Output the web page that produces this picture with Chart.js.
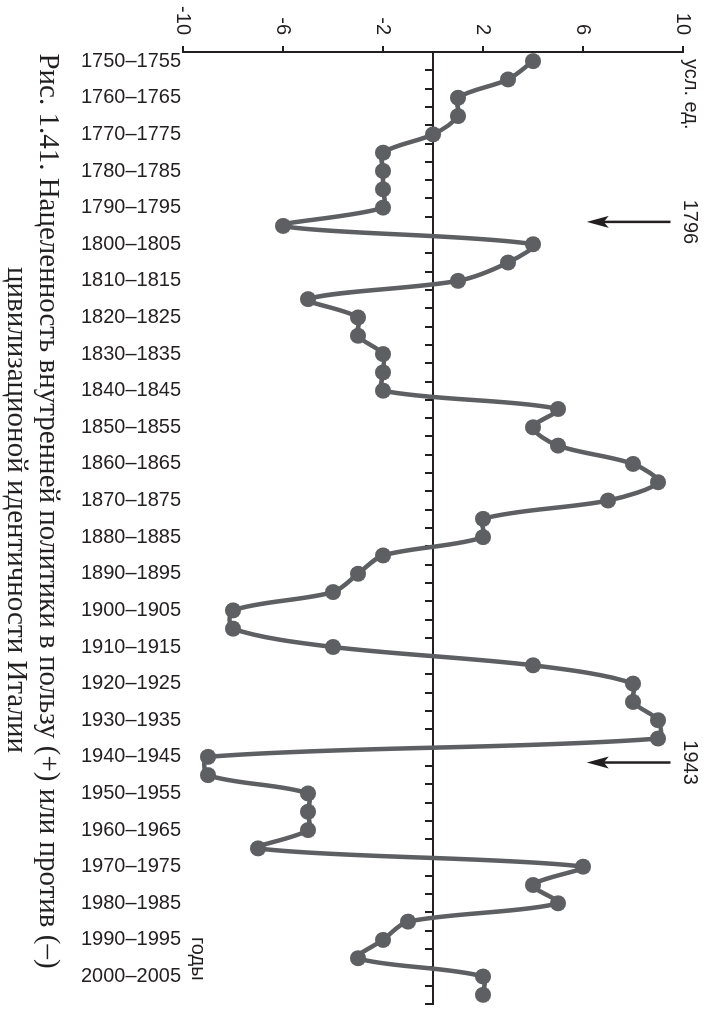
<!DOCTYPE html>
<html>
<head>
<meta charset="utf-8">
<script src="https://cdn.jsdelivr.net/npm/chart.js@4.4.1/dist/chart.umd.min.js"></script>
<style>
html, body { margin: 0; padding: 0; background: #ffffff; overflow: hidden; width: 710px; height: 1012px; }
#wrap { position: absolute; left: 0; top: 0; width: 1012px; height: 710px; transform-origin: 0 0; transform: translate(710px, 0) rotate(90deg); }
canvas { display: block; }
</style>
</head>
<body>
<div id="wrap"><canvas id="c" width="1012" height="710"></canvas></div>
<script>
// ---- data ----
const periods = [
  '1750–1755','1755–1760','1760–1765','1765–1770','1770–1775','1775–1780','1780–1785','1785–1790','1790–1795','1795–1800',
  '1800–1805','1805–1810','1810–1815','1815–1820','1820–1825','1825–1830','1830–1835','1835–1840','1840–1845','1845–1850',
  '1850–1855','1855–1860','1860–1865','1865–1870','1870–1875','1875–1880','1880–1885','1885–1890','1890–1895','1895–1900',
  '1900–1905','1905–1910','1910–1915','1915–1920','1920–1925','1925–1930','1930–1935','1935–1940','1940–1945','1945–1950',
  '1950–1955','1955–1960','1960–1965','1965–1970','1970–1975','1975–1980','1980–1985','1985–1990','1990–1995','1995–2000',
  '2000–2005','2005–2010'
];
const values = [
   4,  3,  1,  1,  0, -2, -2, -2, -2, -6,
   4,  3,  1, -5, -3, -3, -2, -2, -2,  5,
   4,  5,  8,  9,  7,  2,  2, -2, -3, -4,
  -8, -8, -4,  4,  8,  8,  9,  9, -9, -9,
  -5, -5, -5, -7,  6,  4,  5, -1, -2, -3,
   2,  2
];
const valueTicks = [-10, -6, -2, 2, 6, 10];
const labelEvery = 2;
const titleLines = [
  'Рис. 1.41. Нацеленность внутренней политики в пользу (+) или против (–)',
  'цивилизационой идентичности Италии'
];
const valueUnit = 'усл. ед.';
const categoryUnit = 'годы';
// arrows: position along the period axis (in period-index units), arrow from value to value
const markerText = ['1796', '1943'];
const markerAt = [8.78, 38.31];
const arrowFrom = 9.5;
const arrowTo = 6.15;

// ---- styles ----
const ink = '#231f20';
const lineGrey = '#5e5f63';
const sans = '"Liberation Sans", Arial, sans-serif';
const serif = '"Liberation Serif", "Times New Roman", serif';

const extras = {
  id: 'extras',
  afterDraw(chart) {
    const ctx = chart.ctx;
    const xs = chart.scales.x;
    const ys = chart.scales.y;
    const area = chart.chartArea;
    ctx.save();
    ctx.fillStyle = ink;
    ctx.strokeStyle = ink;
    // unit labels
    ctx.font = '20px ' + sans;
    ctx.textAlign = 'left';
    ctx.textBaseline = 'alphabetic';
    ctx.fillText(valueUnit, area.left + 7, ys.getPixelForValue(10) - 2);
    ctx.fillText(categoryUnit, xs.getPixelForValue(periods.length - 4) - 3, ys.getPixelForValue(-10) - 9);
    // arrows with year labels
    markerText.forEach((t, i) => {
      const u = xs.getPixelForValue(markerAt[i]);
      ctx.textAlign = 'center';
      ctx.fillText(t, u, ys.getPixelForValue(10) - 1);
      const v0 = ys.getPixelForValue(arrowFrom);
      const v1 = ys.getPixelForValue(arrowTo);
      ctx.lineWidth = 2.5;
      ctx.beginPath();
      ctx.moveTo(u, v0);
      ctx.lineTo(u, v1 - 15);
      ctx.stroke();
      ctx.beginPath();
      ctx.moveTo(u, v1);
      ctx.lineTo(u - 6, v1 - 22);
      ctx.lineTo(u, v1 - 17);
      ctx.lineTo(u + 6, v1 - 22);
      ctx.closePath();
      ctx.fill();
    });
    // caption
    ctx.font = '29px ' + serif;
    ctx.textAlign = 'center';
    ctx.fillText(titleLines[0], 511, 670);
    ctx.fillText(titleLines[1], 510, 702);
    ctx.restore();
  }
};

new Chart(document.getElementById('c'), {
  type: 'line',
  data: {
    labels: periods,
    datasets: [{
      data: values,
      borderColor: lineGrey,
      backgroundColor: lineGrey,
      pointBackgroundColor: lineGrey,
      pointBorderColor: lineGrey,
      pointBorderWidth: 0,
      pointRadius: 8,
      borderWidth: 4.5,
      tension: 0.3,
      fill: false,
      xAxisID: 'x',
      yAxisID: 'y'
    }]
  },
  options: {
    responsive: false,
    animation: false,
    devicePixelRatio: 1,
    layout: { padding: { top: 27, right: 6, left: 0, bottom: 0 } },
    plugins: { legend: { display: false }, tooltip: { enabled: false }, title: { display: false } },
    scales: {
      x: {
        type: 'category',
        position: 'bottom',
        offset: true,
        grid: { display: false, drawTicks: false },
        border: { display: false },
        ticks: {
          autoSkip: false, minRotation: 90, maxRotation: 90, padding: 2,
          color: ink, font: { family: sans, size: 20 },
          callback(v, i) { return i % labelEvery === 0 ? periods[i] : ''; }
        },
        afterFit(s) { s.height = 183; s.paddingLeft = 0; s.paddingRight = 0; }
      },
      x2: {
        type: 'category',
        labels: periods,
        position: { y: 0 },
        offset: true,
        grid: { display: true, drawOnChartArea: false, drawTicks: true, tickLength: 7, offset: true, color: ink, lineWidth: 2 },
        border: { display: true, color: ink, width: 2 },
        ticks: { display: false },
        afterFit(s) { s.paddingLeft = 0; s.paddingRight = 0; }
      },
      y: {
        min: -10, max: 10,
        position: 'left',
        grid: { drawOnChartArea: false, drawTicks: true, tickLength: 6, color: ink, lineWidth: 2 },
        border: { display: true, color: ink, width: 2 },
        ticks: { color: ink, font: { family: sans, size: 20 }, padding: 11, callback(v) { return String(v); } },
        afterBuildTicks(s) { s.ticks = valueTicks.map(v => ({ value: v })); },
        afterFit(s) { s.width = 52; s.paddingTop = 0; s.paddingBottom = 0; }
      }
    }
  },
  plugins: [extras]
});
</script>
</body>
</html>
